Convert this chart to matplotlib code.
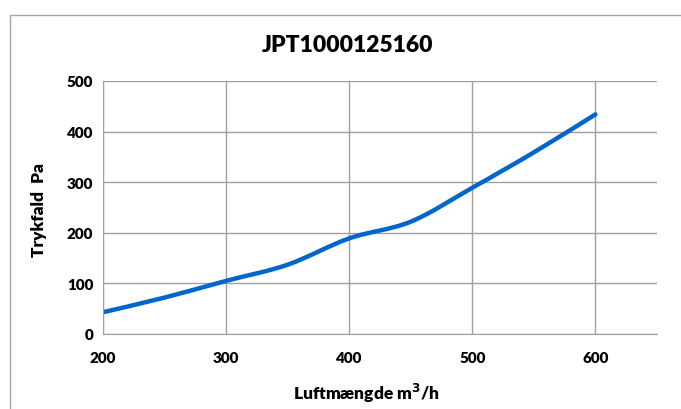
import numpy as np
import matplotlib.pyplot as plt
from matplotlib.path import Path
from matplotlib.patches import PathPatch, Rectangle

# data
flow = [200, 250, 300, 350, 400, 450, 500, 550, 600]
drop = [43, 72, 105, 137, 189, 222, 289, 359, 434]
x_ticks = [200, 300, 400, 500, 600]
y_ticks = [0, 100, 200, 300, 400, 500]

plt.rcParams['font.family'] = ['Lato', 'DejaVu Sans']
plt.rcParams['font.weight'] = 'bold'

fig = plt.figure(figsize=(6.81, 4.10), dpi=100)
ax = fig.add_axes([103 / 681, 1 - 335 / 410, (657 - 103) / 681, (335 - 82) / 410])

# outer chart frame (cut off at right and bottom like the source)
fig.patches.append(Rectangle((10 / 681, -0.1), 1.2, 1.1 - 16 / 410,
                             transform=fig.transFigure, fill=False,
                             edgecolor='#a6a6a6', lw=1))


# smoothed line like excel: catmull-rom -> bezier
def smooth_path(xs, ys):
    pts = np.column_stack([xs, ys]).astype(float)
    verts = [pts[0]]
    codes = [Path.MOVETO]
    n = len(pts)
    for i in range(n - 1):
        p0 = pts[max(i - 1, 0)]
        p1 = pts[i]
        p2 = pts[i + 1]
        p3 = pts[min(i + 2, n - 1)]
        c1 = p1 + (p2 - p0) / 6
        c2 = p2 - (p3 - p1) / 6
        verts += [c1, c2, p2]
        codes += [Path.CURVE4] * 3
    return Path(verts, codes)


ax.add_patch(PathPatch(smooth_path(flow, drop), fill=False,
                       edgecolor='#0066cc', lw=3.2, capstyle='round'))

ax.set_xlim(200, 650)
ax.set_ylim(0, 500)
ax.set_xticks(x_ticks)
ax.set_yticks(y_ticks)
ax.grid(True, color='#a0a0a0', lw=1)
ax.set_axisbelow(True)
for s in ['top', 'right']:
    ax.spines[s].set_visible(False)
for s in ['left', 'bottom']:
    ax.spines[s].set_color('#a0a0a0')
ax.tick_params(length=0, labelsize=11, pad=7)
ax.tick_params(axis='x', pad=12)
for lab in ax.get_xticklabels() + ax.get_yticklabels():
    lab.set_fontweight('heavy')

fig.text(348 / 681, 1 - 45 / 410, 'JPT1000125160', fontsize=16.5,
         fontweight='heavy', ha='center', va='center')
fig.text(366 / 681, 1 - 393 / 410, 'Luftmængde m$^3$/h', fontsize=12.5,
         fontweight='heavy', ha='center', va='center')
fig.text(39 / 681, 1 - 210 / 410, 'Trykfald  Pa', fontsize=12.5,
         fontweight='heavy', ha='center', va='center', rotation=90)

fig.savefig('out.png', dpi=100)
